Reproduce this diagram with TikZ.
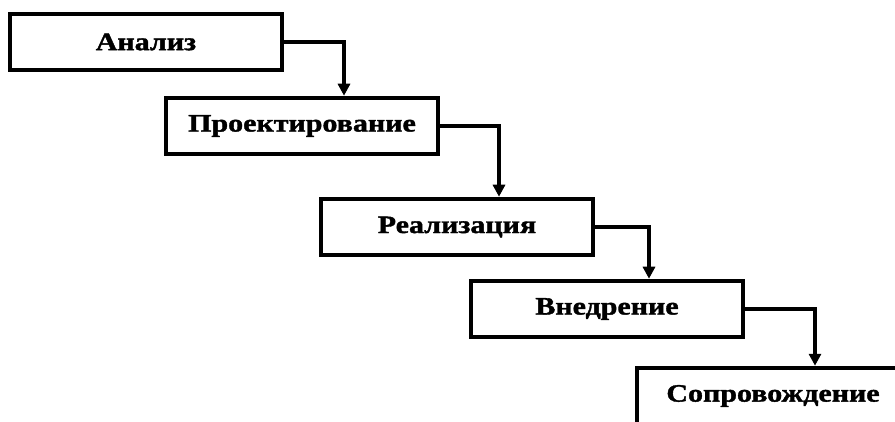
\documentclass[tikz,border=0pt]{standalone}
\usepackage{fontspec}
\setmainfont{Liberation Serif}[FakeStretch=1.2, BoldFeatures={FakeBold=1.5}]
\usetikzlibrary{arrows.meta}

\begin{document}
\begin{tikzpicture}[x=1pt,y=-1pt,
  box/.style={draw, line width=4.5pt, minimum width=272pt, minimum height=56pt,
    font=\bfseries\fontsize{25}{29}\selectfont},
  pfeil/.style={line width=3.5pt, -{Triangle[length=12pt,width=12pt]}}]
  % Rahmen
  \useasboundingbox (0,0) rectangle (895,422);
  \clip (0,0) rectangle (895,422);

  % Phasen
  \foreach \n/\x/\y/\t in {ana/146/42/Анализ, pro/302/126/Проектирование,
      rea/457/227/Реализация, vne/607/309/Внедрение, sop/773/396/Сопровождение} {
    \node[box] (\n) at (\x,\y) {\t};
  }

  % Verbindungen
  \foreach \a/\b in {ana/pro, pro/rea, rea/vne, vne/sop} {
    \draw[pfeil] (\a.east) -| ([xshift=42pt]\b.north);
  }
\end{tikzpicture}
\end{document}
